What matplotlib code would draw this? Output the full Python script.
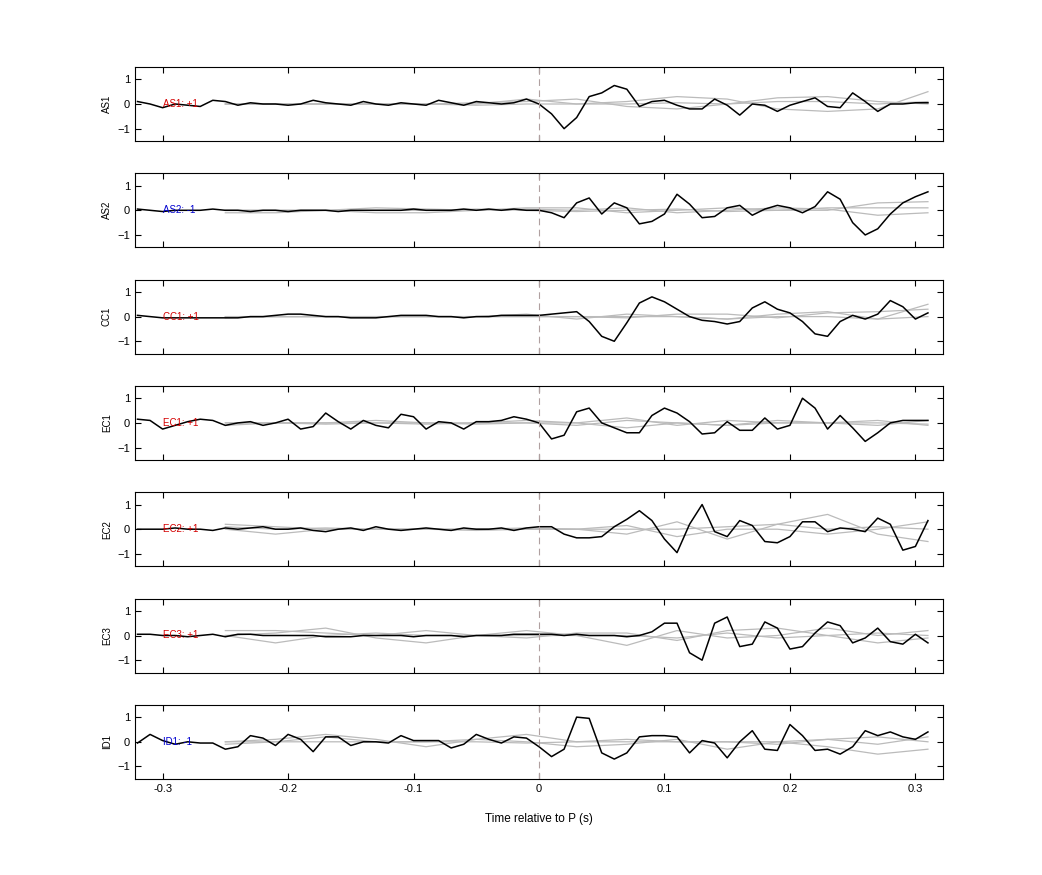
import numpy as np
import matplotlib
matplotlib.use("Agg")
import matplotlib.pyplot as plt

plt.rcParams['font.family'] = ['Liberation Sans', 'DejaVu Sans']

t = np.round(np.arange(-0.32, 0.315, 0.01), 2)  # 64 samples
tg = np.round(np.arange(-0.25, 0.33, 0.04), 2)   # gray sample times

stations = ["AS1", "AS2", "CC1", "EC1", "EC2", "EC3", "ID1"]
polarity = ["+1", "-1", "+1", "+1", "+1", "+1", "-1"]

AS1 = [0.1,0.0,-0.15,0.0,-0.05,-0.1,0.15,0.1,-0.05,0.05,0.0,0.0,-0.05,0.0,0.15,0.05,0.0,-0.05,0.1,0.0,-0.05,0.05,0.0,-0.05,0.15,0.05,-0.05,0.1,0.05,0.0,0.05,0.2,
       0.0,-0.4,-1.0,-0.55,0.3,0.45,0.75,0.6,-0.1,0.1,0.15,-0.05,-0.2,-0.2,0.2,-0.05,-0.45,0.0,-0.05,-0.3,-0.05,0.1,0.25,-0.1,-0.15,0.45,0.1,-0.3,0.0,0.0,0.05,0.05]
AS2 = [0.05,0.0,-0.05,0.0,0.0,0.0,0.05,0.0,0.0,-0.05,0.0,0.0,-0.05,0.0,0.0,0.0,-0.05,0.0,0.0,0.0,0.0,0.0,0.05,0.0,0.0,0.0,0.05,0.0,0.05,0.0,0.05,0.0,
       0.0,-0.1,-0.3,0.3,0.5,-0.15,0.3,0.1,-0.55,-0.45,-0.15,0.65,0.25,-0.3,-0.25,0.1,0.2,-0.2,0.05,0.2,0.1,-0.1,0.15,0.75,0.45,-0.5,-1.0,-0.75,-0.15,0.3,0.55,0.75]
CC1 = [0.05,0.0,-0.05,-0.05,-0.05,-0.05,-0.05,-0.05,-0.05,0.0,0.0,0.05,0.1,0.1,0.05,0.0,0.0,-0.05,-0.05,-0.05,0.0,0.05,0.05,0.05,0.0,0.0,-0.05,0.0,0.0,0.05,0.05,0.05,
       0.05,0.1,0.15,0.2,-0.2,-0.8,-1.0,-0.25,0.55,0.8,0.6,0.3,0.0,-0.15,-0.2,-0.3,-0.2,0.35,0.6,0.3,0.15,-0.2,-0.7,-0.8,-0.2,0.05,-0.1,0.1,0.65,0.4,-0.1,0.15]
EC1 = [0.15,0.1,-0.25,-0.1,0.05,0.15,0.1,-0.1,0.0,0.05,-0.1,0.0,0.15,-0.25,-0.15,0.4,0.05,-0.25,0.1,-0.1,-0.2,0.35,0.25,-0.25,0.05,0.0,-0.25,0.05,0.05,0.1,0.25,0.15,
       0.0,-0.65,-0.5,0.45,0.6,0.0,-0.2,-0.4,-0.4,0.3,0.6,0.4,0.05,-0.45,-0.4,0.05,-0.3,-0.3,0.2,-0.25,-0.1,1.0,0.6,-0.25,0.3,-0.2,-0.75,-0.4,0.0,0.1,0.1,0.1]
EC2 = [0.0,0.0,0.0,0.05,0.0,0.0,-0.05,0.05,0.0,0.05,0.1,0.0,0.0,0.05,-0.05,-0.1,0.0,0.05,-0.05,0.1,0.0,-0.05,0.0,0.05,0.0,-0.05,0.05,0.0,0.0,0.05,-0.05,0.05,
       0.1,0.1,-0.2,-0.35,-0.35,-0.3,0.1,0.4,0.75,0.35,-0.4,-0.95,0.2,1.0,-0.1,-0.3,0.35,0.15,-0.5,-0.55,-0.3,0.3,0.3,-0.1,0.05,0.0,-0.1,0.45,0.2,-0.85,-0.7,0.35]
EC3 = [0.05,0.05,0.0,0.0,-0.05,0.0,0.05,-0.05,0.05,0.05,0.0,0.0,0.0,0.0,0.0,-0.05,-0.05,-0.05,0.0,0.0,0.0,0.0,-0.05,0.0,0.0,0.0,-0.05,0.0,0.0,0.0,0.05,0.05,
       0.05,0.05,0.0,0.05,0.0,0.0,0.0,-0.05,0.0,0.15,0.5,0.5,-0.7,-1.0,0.5,0.75,-0.45,-0.35,0.55,0.3,-0.55,-0.45,0.1,0.55,0.4,-0.3,-0.1,0.3,-0.25,-0.35,0.05,-0.3]
ID1 = [-0.05,0.3,0.05,-0.1,0.0,-0.05,-0.05,-0.3,-0.2,0.25,0.15,-0.15,0.3,0.1,-0.4,0.2,0.2,-0.15,0.0,0.0,-0.05,0.25,0.05,0.05,0.05,-0.25,-0.1,0.3,0.1,-0.05,0.2,0.15,
       -0.2,-0.6,-0.3,1.0,0.95,-0.45,-0.7,-0.45,0.2,0.25,0.25,0.2,-0.45,0.05,-0.05,-0.65,0.0,0.45,-0.3,-0.35,0.7,0.25,-0.35,-0.3,-0.5,-0.2,0.45,0.25,0.4,0.2,0.1,0.4]
black = [AS1, AS2, CC1, EC1, EC2, EC3, ID1]

# gray reference traces (at tg)
gray = [
 [[0,0,0,0,0,0.05,0.1,0.2,-0.1,-0.2,0.0,0.25,0.3,0.1,0.0],
  [0,0,0,0,0,0,0.2,0,0.1,0.3,0.2,-0.2,-0.3,-0.2,0.5],
  [0,0,0,0,0,-0.05,0,0,0,0.05,0,0.1,0.1,0,0.1]],
 [[-0.1,-0.1,0,0.1,0.05,0,0.1,0.1,-0.1,0,0.1,0,0,0.3,0.35],
  [0,0,0,-0.1,-0.1,0,0.05,0,0.1,-0.1,0,0.1,0.05,-0.2,-0.1],
  [0,0,0,0,0,0.05,0,-0.05,0,0.05,-0.05,0,0.1,0.1,0.1]],
 [[0,0,0,0,0,0,0.1,-0.1,0.1,0,-0.1,0.1,0.2,-0.1,0.5],
  [0,0,0,0,0,0,0,0,-0.05,0.1,0.1,-0.05,0.15,0.2,0.3],
  [-0.05,0,0,0,0,0,0,0,0,0,-0.1,0,0,-0.1,0]],
 [[0,0,0,0,-0.05,0,0.1,0,0.2,-0.1,0.1,0,0,0.1,-0.1],
  [-0.1,0,0,0.1,0,0,0,-0.1,0.1,0,-0.1,0.1,0,-0.1,0.1],
  [0,0,-0.05,0,0,-0.05,0,0,-0.2,0,-0.1,0,0,0,-0.05]],
 [[0.2,0.1,0,0,0,-0.05,0,0,-0.2,0.3,-0.4,0.2,0.6,-0.2,-0.5],
  [0,-0.2,0,0,0,0,0.05,0,0.15,-0.3,0,0,-0.2,0,0.3],
  [0.1,0,0.05,0,0,0,0,0,0,0,0.1,0.2,0,0.1,0]],
 [[0.2,0.2,0.1,0,0.2,0,-0.1,0.1,0.1,-0.2,0.2,0.3,0,-0.3,-0.1],
  [0,0.1,0.3,-0.1,-0.3,0,0.2,0,-0.4,0.2,-0.1,0,0.3,0,0.2],
  [0,-0.3,0,0.1,0,0,0,0,0,-0.1,0.1,-0.1,0,0.1,0]],
 [[0,0.1,0.3,0.1,-0.2,0.1,0.3,0,0,0,0,0,0.1,-0.1,0.2],
  [0,0,0.2,0,0,0.1,0,-0.2,-0.1,0.1,-0.3,0,-0.2,-0.5,-0.3],
  [-0.1,0,0,0,0,0,-0.05,0,0.1,0,0,-0.1,0.1,0.2,0]],
]
pcol = {"+1": "#d40000", "-1": "#0000d0"}

fig = plt.figure(figsize=(10.42, 8.75), dpi=100)
left, width = 135/1042, 808/1042
hp = 74
for i, st in enumerate(stations):
    top = 67 + i*106.3
    ax = fig.add_axes([left, 1 - (top+hp)/875, width, hp/875])
    for g in gray[i]:
        ax.plot(tg, g, color="#bbbbbb", lw=0.9)
    ax.plot(t, black[i], color="black", lw=1.1)
    ax.axvline(0, color="#b0a0a0", ls=(0, (6, 4)), lw=0.8)
    ax.text(-0.30, 0, f"{st}: {polarity[i]}", color=pcol[polarity[i]], fontsize=7, va="center")
    ax.set_xlim(-0.322, 0.322)
    ax.set_ylim(-1.5, 1.5)
    ax.set_yticks([-1, 0, 1])
    ax.set_xticks([-0.3, -0.2, -0.1, 0, 0.1, 0.2, 0.3])
    ax.tick_params(direction="in", top=True, right=True, labelsize=8, length=4)
    ax.set_ylabel(st, fontsize=7)
    if i < len(stations) - 1:
        ax.set_xticklabels([])
    else:
        ax.set_xticklabels(["-0.3", "-0.2", "-0.1", "0", "0.1", "0.2", "0.3"])
        ax.set_xlabel("Time relative to P (s)", fontsize=8.5, labelpad=14)
fig.savefig("out.png", dpi=100)
